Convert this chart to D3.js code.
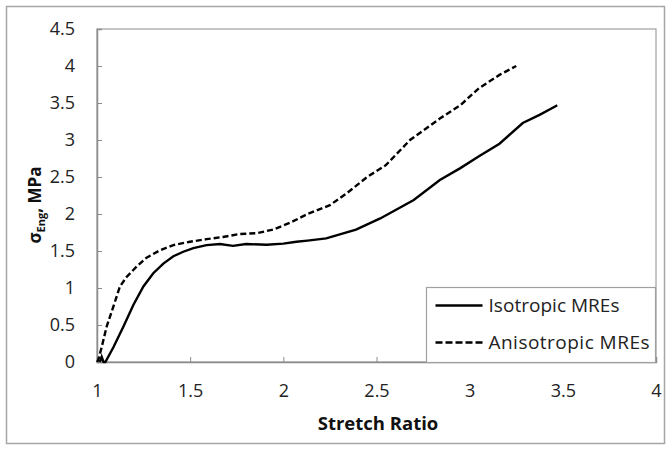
<!DOCTYPE html>
<html>
<head>
<meta charset="utf-8">
<script src="https://cdn.jsdelivr.net/npm/d3@7"></script>
<style>
  body { margin: 0; background: #fff; }
  text { font-family: "Open Sans", "Noto Sans", sans-serif; }
</style>
</head>
<body>
<div id="chart"></div>
<script>
// valeurs
var stretchIso = [1.015, 1.025, 1.035, 1.045, 1.088, 1.142, 1.195, 1.249, 1.302, 1.356, 1.41, 1.463, 1.517, 1.588, 1.66, 1.73, 1.80, 1.91, 2.0, 2.07, 2.13, 2.23, 2.39, 2.52, 2.70, 2.84, 2.95, 3.05, 3.16, 3.285, 3.375, 3.456, 3.47];
var stressIso  = [0.0, 0.07, 0.0, 0.0, 0.2, 0.48, 0.77, 1.02, 1.2, 1.33, 1.43, 1.49, 1.54, 1.58, 1.595, 1.57, 1.595, 1.585, 1.60, 1.625, 1.64, 1.67, 1.79, 1.94, 2.19, 2.46, 2.62, 2.78, 2.95, 3.23, 3.34, 3.45, 3.47];

var stretchAni = [1.0, 1.007, 1.025, 1.052, 1.088, 1.123, 1.159, 1.213, 1.266, 1.338, 1.41, 1.499, 1.588, 1.677, 1.767, 1.856, 1.945, 2.035, 2.13, 2.25, 2.34, 2.45, 2.55, 2.68, 2.84, 2.95, 3.05, 3.16, 3.25];
var stressAni  = [0.0, 0.03, 0.2, 0.48, 0.75, 1.02, 1.15, 1.29, 1.41, 1.51, 1.58, 1.625, 1.66, 1.69, 1.73, 1.74, 1.79, 1.88, 2.0, 2.12, 2.28, 2.50, 2.66, 3.0, 3.29, 3.47, 3.70, 3.88, 4.0];

var xTicks = [1, 1.5, 2, 2.5, 3, 3.5, 4];
var yTicks = [0, 0.5, 1, 1.5, 2, 2.5, 3, 3.5, 4, 4.5];
var seriesNames = ["Isotropic MREs", "Anisotropic MREs"];

var W = 672, H = 452;
var margin = {top: 29, right: 16, bottom: 90, left: 97};
var width = W - margin.left - margin.right,
    height = H - margin.top - margin.bottom;

var svg = d3.select("#chart").append("svg")
  .attr("width", W)
  .attr("height", H);

// cadre extérieur
svg.append("rect")
  .attr("x", 6.5).attr("y", 6.5)
  .attr("width", 658).attr("height", 437)
  .attr("fill", "none")
  .attr("stroke", "#a6a6a6")
  .attr("stroke-width", 1.5);

var g = svg.append("g")
  .attr("transform", "translate(" + margin.left + "," + margin.top + ")");

var x = d3.scaleLinear().domain([1, 4]).range([0, width]);
var y = d3.scaleLinear().domain([0, 4.5]).range([height, 0]);

// cadre du graphique
g.append("rect")
  .attr("x", 0).attr("y", 0)
  .attr("width", width).attr("height", height)
  .attr("fill", "none")
  .attr("stroke", "#a0a0a0")
  .attr("stroke-width", 1.2);

// axe X
var xAxis = g.append("g")
  .attr("transform", "translate(0," + height + ")")
  .call(d3.axisBottom(x).tickValues(xTicks).tickSize(-5).tickPadding(22)
    .tickFormat(function(d) { return d; }));
xAxis.select(".domain").attr("stroke", "#8c8c8c").attr("stroke-width", 1.5);
xAxis.selectAll(".tick line").attr("stroke", "#8c8c8c");
xAxis.selectAll(".tick text").attr("font-size", 18).attr("fill", "#222");

// axe Y
var yAxis = g.append("g")
  .call(d3.axisLeft(y).tickValues(yTicks).tickSize(-5).tickPadding(22)
    .tickFormat(function(d) { return d; }));
yAxis.select(".domain").attr("stroke", "#8c8c8c").attr("stroke-width", 1.5);
yAxis.selectAll(".tick line").attr("stroke", "#8c8c8c");
yAxis.selectAll(".tick text").attr("font-size", 18).attr("fill", "#222");

// titres
svg.append("text")
  .attr("x", 378).attr("y", 430)
  .attr("text-anchor", "middle")
  .attr("font-size", 18.5).attr("font-weight", "bold")
  .attr("fill", "#111")
  .text("Stretch Ratio");

var yTitle = svg.append("text")
  .attr("transform", "translate(41,205) rotate(-90)")
  .attr("text-anchor", "middle")
  .attr("font-size", 17).attr("font-weight", "bold")
  .attr("fill", "#111");
yTitle.append("tspan").text("σ");
yTitle.append("tspan").attr("font-size", 11).attr("dy", 4).text("Eng");
yTitle.append("tspan").attr("dy", -4).text(", MPa");

// courbes
var line = d3.line()
  .x(function(d) { return x(d[0]); })
  .y(function(d) { return y(d[1]); });

var dataIso = d3.zip(stretchIso, stressIso);
var dataAni = d3.zip(stretchAni, stressAni);

g.append("path")
  .datum(dataIso)
  .attr("fill", "none")
  .attr("stroke", "#000")
  .attr("stroke-width", 2.4)
  .attr("d", line);

g.append("path")
  .datum(dataAni)
  .attr("fill", "none")
  .attr("stroke", "#000")
  .attr("stroke-width", 2.4)
  .attr("stroke-dasharray", "6,3")
  .attr("d", line);

// légende
var leg = svg.append("g").attr("transform", "translate(426.5,287.5)");
leg.append("rect")
  .attr("width", 229).attr("height", 75)
  .attr("fill", "#fff")
  .attr("stroke", "#a0a0a0")
  .attr("stroke-width", 1.2);

var dashes = [null, "7,3"];
seriesNames.forEach(function(name, i) {
  var ly = 18 + i * 37;
  leg.append("line")
    .attr("x1", 9).attr("x2", 56)
    .attr("y1", ly).attr("y2", ly)
    .attr("stroke", "#000").attr("stroke-width", 2.3)
    .attr("stroke-dasharray", dashes[i]);
  leg.append("text")
    .attr("x", 62).attr("y", ly)
    .attr("dy", "0.35em")
    .attr("font-size", 19)
    .attr("textLength", i === 0 ? 131 : 161)
    .attr("fill", "#222")
    .text(name);
});
</script>
</body>
</html>
